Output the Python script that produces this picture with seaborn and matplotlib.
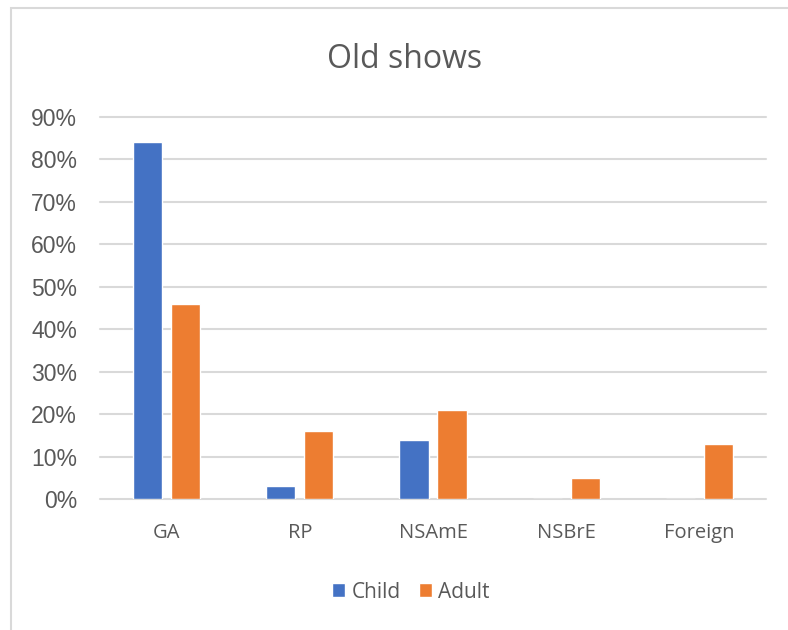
import matplotlib
matplotlib.use("Agg")
import matplotlib.pyplot as plt
from matplotlib.patches import Rectangle
from matplotlib.ticker import PercentFormatter
import pandas as pd
import seaborn as sns

categories = ["GA", "RP", "NSAmE", "NSBrE", "Foreign"]
child = [84, 3, 14, 0, 0]
adult = [46, 16, 21, 5, 13]
series_names = ["Child", "Adult"]
palette = {"Child": "#4472C4", "Adult": "#ED7D31"}

df = pd.DataFrame({
    "category": categories * 2,
    "group": [series_names[0]] * len(categories) + [series_names[1]] * len(categories),
    "share": child + adult,
})

sns.set_theme(style="white")
plt.rcParams["font.family"] = ["Open Sans", "DejaVu Sans"]

text_color = "#595959"
grid_color = "#D9D9D9"

fig = plt.figure(figsize=(7.88, 6.30), dpi=100)
fig.patch.set_facecolor("white")

# outer chart-area frame
fig.patches.append(Rectangle((11 / 788, -0.1), 1.2, (630 - 8) / 630 + 0.1,
                             transform=fig.transFigure, fill=False,
                             edgecolor=grid_color, linewidth=1.5, zorder=0))

ax = fig.add_axes([100 / 788, (630 - 499) / 630, (766 - 100) / 788, (499 - 117) / 630])

sns.barplot(data=df, x="category", y="share", hue="group", order=categories,
            hue_order=series_names, palette=palette, width=0.57, gap=0.23,
            saturation=1, ax=ax, legend=True)

ax.set_ylim(0, 90)
ax.set_yticks(range(0, 91, 10))
ax.yaxis.set_major_formatter(PercentFormatter(100, decimals=0))
ax.set_xlim(-0.5, len(categories) - 0.5)
ax.set_xlabel("")
ax.set_ylabel("")

ax.yaxis.grid(True, color=grid_color, linewidth=1.5)
ax.set_axisbelow(True)
for line in ax.get_ygridlines():
    line.set_clip_on(False)
for s in ["left", "right", "top", "bottom"]:
    ax.spines[s].set_visible(False)

ax.tick_params(axis="y", length=0, pad=16.5, labelsize=16.5, labelcolor=text_color)
ax.tick_params(axis="x", length=0, pad=17, labelsize=14.5, labelcolor=text_color)
for lbl in ax.get_yticklabels():
    lbl.set_fontfamily(["Liberation Sans", "DejaVu Sans"])

fig.text(405 / 788, 1 - 60 / 630, "Old shows", ha="center", va="center",
         fontsize=23, color=text_color)

handles, labels = ax.get_legend_handles_labels()
ax.legend_.remove()
fig.legend(handles, labels, loc="center", bbox_to_anchor=(411 / 788, 1 - 592 / 630),
           ncol=2, frameon=False, fontsize=15, labelcolor=text_color,
           handlelength=0.62, handleheight=0.62, handletextpad=0.3, columnspacing=0.87)

fig.savefig("out.png", dpi=100)
